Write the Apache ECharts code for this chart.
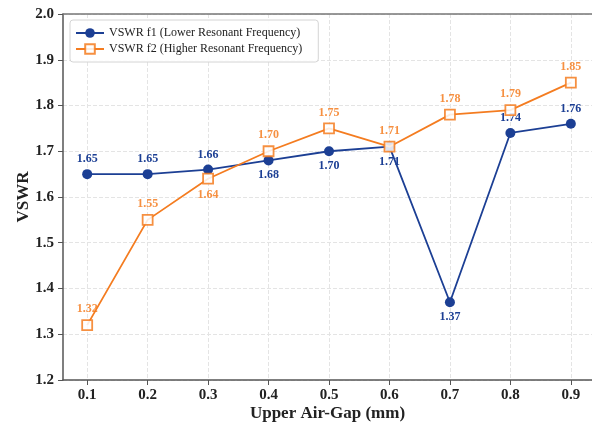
<!DOCTYPE html>
<html>
<head>
<meta charset="utf-8">
<script src="https://cdn.jsdelivr.net/npm/echarts@6/dist/echarts.min.js"></script>
<style>
  html, body { margin: 0; padding: 0; background: #fff; }
  #chart { width: 592px; height: 425px; }
</style>
</head>
<body>
<div id="chart"></div>
<script>
// Upper air-gap sweep (mm)
const airGap = [0.1, 0.2, 0.3, 0.4, 0.5, 0.6, 0.7, 0.8, 0.9];
// VSWR at the lower resonant frequency
const vswrF1 = [1.65, 1.65, 1.66, 1.68, 1.70, 1.71, 1.37, 1.74, 1.76];
// VSWR at the higher resonant frequency
const vswrF2 = [1.32, 1.55, 1.64, 1.70, 1.75, 1.71, 1.78, 1.79, 1.85];
// label placement per point (above / below the marker)
const f1LabelPos = ['top', 'top', 'top', 'bottom', 'bottom', 'bottom', 'bottom', 'top', 'top'];
const f2LabelPos = ['top', 'top', 'bottom', 'top', 'top', 'top', 'top', 'top', 'top'];
const xTicks = [0.1, 0.2, 0.3, 0.4, 0.5, 0.6, 0.7, 0.8, 0.9];

const BLUE = '#1c3f94';
const ORANGE = '#f47c20';
const SERIF = '"Liberation Serif", "Times New Roman", "DejaVu Serif", serif';

function pts(values, positions) {
  return values.map((v, i) => ({
    value: [airGap[i], v],
    label: { position: positions[i] }
  }));
}

const chart = echarts.init(document.getElementById('chart'));
chart.setOption({
  animation: false,
  textStyle: { fontFamily: SERIF },
  grid: { left: 63, right: 0, top: 14, bottom: 45, containLabel: false, outerBoundsMode: 'none' },
  legend: {
    left: 70, top: 20,
    orient: 'vertical',
    itemGap: 4,
    itemWidth: 28, itemHeight: 12,
    padding: [7, 16, 7, 5],
    borderColor: '#d4d4d4', borderWidth: 1, borderRadius: 3,
    backgroundColor: 'rgba(255,255,255,0.9)',
    textStyle: { fontFamily: SERIF, fontSize: 12, color: '#222' },
    data: ['VSWR f1 (Lower Resonant Frequency)', 'VSWR f2 (Higher Resonant Frequency)']
  },
  xAxis: [{
    type: 'value',
    min: 0.06, max: 0.935,
    name: 'Upper Air-Gap (mm)',
    nameLocation: 'middle',
    nameMoveOverlap: false,
    nameGap: 25,
    nameTextStyle: { fontFamily: SERIF, fontSize: 17, fontWeight: 'bold', color: '#222' },
    axisLine: { show: true, onZero: false, lineStyle: { color: '#555', width: 1.5 } },
    axisTick: { show: true, length: 5, lineStyle: { color: '#555' }, customValues: xTicks },
    axisLabel: { fontFamily: SERIF, fontSize: 15, fontWeight: 'bold', color: '#222', margin: 8,
      customValues: xTicks, formatter: v => v.toFixed(1) },
    splitLine: { show: true, lineStyle: { color: '#e4e4e4', type: 'dashed' } }
  }, {
    type: 'value', position: 'top',
    min: 0.06, max: 0.935,
    axisLine: { show: true, onZero: false, lineStyle: { color: '#777', width: 1.5 } },
    axisTick: { show: false }, axisLabel: { show: false }, splitLine: { show: false }
  }],
  yAxis: {
    type: 'value',
    min: 1.2, max: 2.0, interval: 0.1,
    name: 'VSWR',
    nameLocation: 'middle',
    nameMoveOverlap: false,
    nameGap: 31,
    nameTextStyle: { fontFamily: SERIF, fontSize: 17, fontWeight: 'bold', color: '#222' },
    axisLine: { show: true, onZero: false, lineStyle: { color: '#555', width: 1.5 } },
    axisTick: { show: true, length: 5, lineStyle: { color: '#555' } },
    axisLabel: { fontFamily: SERIF, fontSize: 15, fontWeight: 'bold', color: '#222', margin: 9,
      formatter: v => v.toFixed(1) },
    splitLine: { show: true, lineStyle: { color: '#e4e4e4', type: 'dashed' } }
  },
  series: [{
    name: 'VSWR f1 (Lower Resonant Frequency)',
    type: 'line',
    data: pts(vswrF1, f1LabelPos),
    symbol: 'circle', symbolSize: 10,
    lineStyle: { color: BLUE, width: 1.8 },
    itemStyle: { color: BLUE },
    label: { show: true, distance: 4, color: BLUE, fontFamily: SERIF, fontSize: 12, fontWeight: 'bold',
      formatter: p => p.value[1].toFixed(2) },
    z: 3
  }, {
    name: 'VSWR f2 (Higher Resonant Frequency)',
    type: 'line',
    data: pts(vswrF2, f2LabelPos),
    symbol: 'rect', symbolSize: 10,
    lineStyle: { color: ORANGE, width: 1.8 },
    itemStyle: { color: '#fff', borderColor: ORANGE, borderWidth: 1.8, opacity: 0.85 },
    label: { show: true, distance: 4, color: ORANGE, fontFamily: SERIF, fontSize: 12, fontWeight: 'bold',
      formatter: p => p.value[1].toFixed(2) },
    z: 4
  }]
});
</script>
</body>
</html>
